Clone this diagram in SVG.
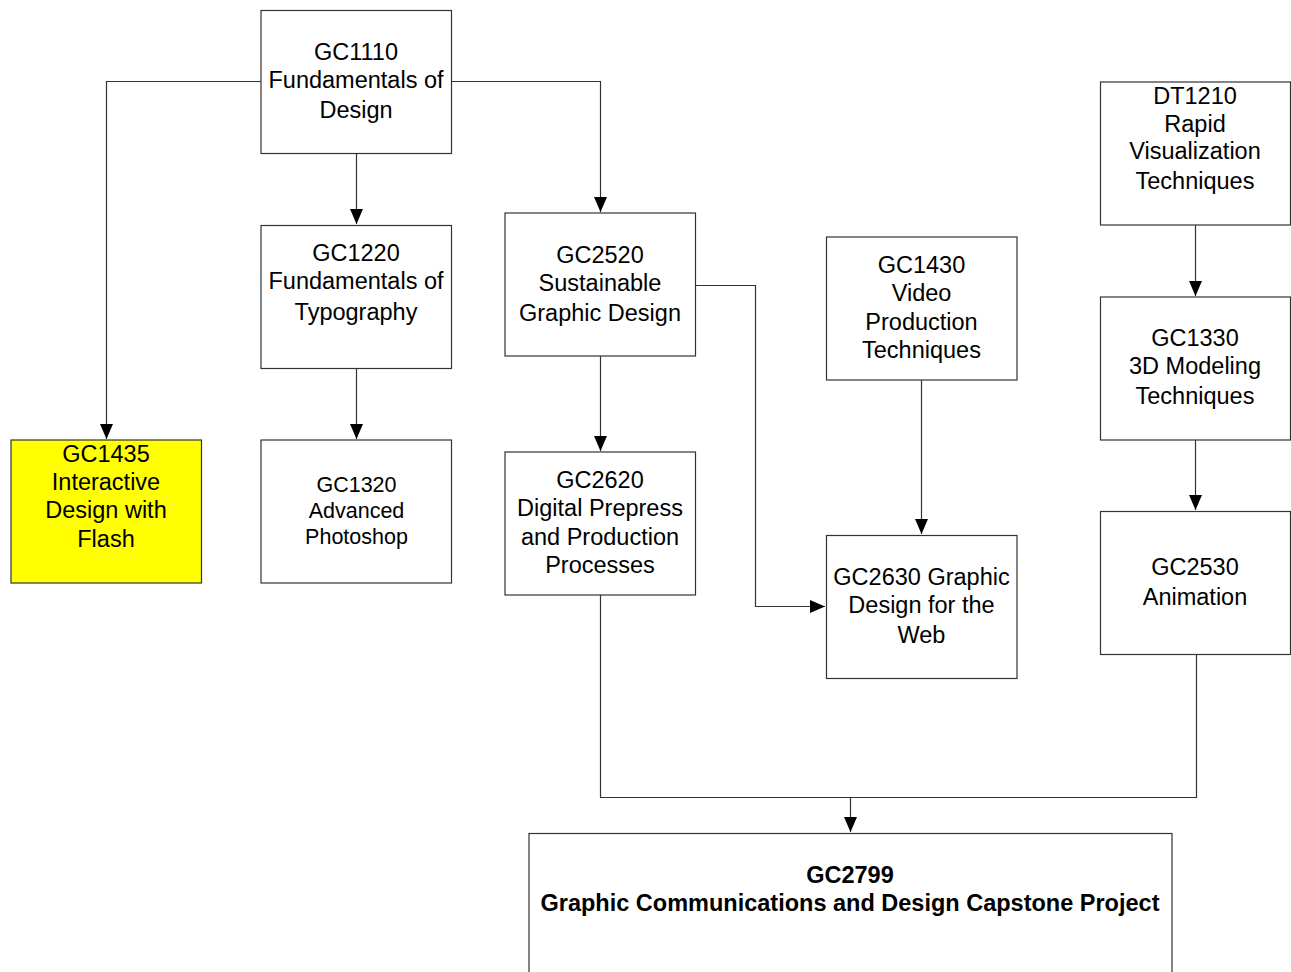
<svg xmlns="http://www.w3.org/2000/svg" width="1291" height="972" viewBox="0 0 1291 972">
<style>
.box{fill:#fff;stroke:#333;stroke-width:1.2}
.hl{fill:#ffff00}
.t{font-family:"Liberation Sans",Arial,sans-serif;font-size:23.5px;fill:#000;text-anchor:middle}
.s{font-size:21.5px}
.b{font-weight:bold}
.c{fill:none;stroke:#333;stroke-width:1.2}
</style>
<defs>
<marker id="ah" markerUnits="userSpaceOnUse" markerWidth="16" markerHeight="14" refX="15" refY="6.5" orient="auto">
<path d="M0,0 L15,6.5 L0,13 Z" fill="#000"/>
</marker>
</defs>
<rect width="1291" height="972" fill="#fff"/>
<g id="connectors">
<path class="c" d="M261,81.5 H106.5 V439" marker-end="url(#ah)"/>
<path class="c" d="M451,81.5 H600.5 V212" marker-end="url(#ah)"/>
<path class="c" d="M356.5,153 V224" marker-end="url(#ah)"/>
<path class="c" d="M356.5,368 V439" marker-end="url(#ah)"/>
<path class="c" d="M600.5,356 V451" marker-end="url(#ah)"/>
<path class="c" d="M695,285.5 H755.5 V606.5 H825" marker-end="url(#ah)"/>
<path class="c" d="M921.5,380 V534" marker-end="url(#ah)"/>
<path class="c" d="M1195.5,225 V296" marker-end="url(#ah)"/>
<path class="c" d="M1195.5,440 V510" marker-end="url(#ah)"/>
<path class="c" d="M600.5,595 V797.5 H1196.5 V655"/>
<path class="c" d="M850.5,797.5 V832" marker-end="url(#ah)"/>
</g>
<g id="GC1110">
<rect class="box" x="261" y="10.5" width="190.5" height="143"/>
<text class="t" x="356" y="60">GC1110</text>
<text class="t" x="356" y="88">Fundamentals of</text>
<text class="t" x="356" y="118">Design</text>
</g>
<g id="GC1220">
<rect class="box" x="261" y="225.5" width="190.5" height="143"/>
<text class="t" x="356" y="261">GC1220</text>
<text class="t" x="356" y="289">Fundamentals of</text>
<text class="t" x="356" y="320">Typography</text>
</g>
<g id="GC1320">
<rect class="box" x="261" y="440" width="190.5" height="143"/>
<text class="t s" x="356.5" y="492">GC1320</text>
<text class="t s" x="356.5" y="518">Advanced</text>
<text class="t s" x="356.5" y="544">Photoshop</text>
</g>
<g id="GC1435">
<rect class="box hl" x="11" y="440" width="190.5" height="143"/>
<text class="t" x="106" y="462">GC1435</text>
<text class="t" x="106" y="490">Interactive</text>
<text class="t" x="106" y="518">Design with</text>
<text class="t" x="106" y="547">Flash</text>
</g>
<g id="GC2520">
<rect class="box" x="505" y="213" width="190.5" height="143"/>
<text class="t" x="600" y="263">GC2520</text>
<text class="t" x="600" y="291">Sustainable</text>
<text class="t" x="600" y="321">Graphic Design</text>
</g>
<g id="GC2620">
<rect class="box" x="505" y="452" width="190.5" height="143"/>
<text class="t" x="600" y="488">GC2620</text>
<text class="t" x="600" y="516">Digital Prepress</text>
<text class="t" x="600" y="545">and Production</text>
<text class="t" x="600" y="573">Processes</text>
</g>
<g id="GC1430">
<rect class="box" x="826.5" y="237" width="190.5" height="143"/>
<text class="t" x="921.5" y="273">GC1430</text>
<text class="t" x="921.5" y="301">Video</text>
<text class="t" x="921.5" y="330">Production</text>
<text class="t" x="921.5" y="358">Techniques</text>
</g>
<g id="GC2630">
<rect class="box" x="826.5" y="535.5" width="190.5" height="143"/>
<text class="t" x="921.5" y="585">GC2630 Graphic</text>
<text class="t" x="921.5" y="613">Design for the</text>
<text class="t" x="921.5" y="643">Web</text>
</g>
<g id="DT1210">
<rect class="box" x="1100.5" y="82" width="190" height="143"/>
<text class="t" x="1195" y="104">DT1210</text>
<text class="t" x="1195" y="132">Rapid</text>
<text class="t" x="1195" y="159">Visualization</text>
<text class="t" x="1195" y="189">Techniques</text>
</g>
<g id="GC1330">
<rect class="box" x="1100.5" y="297" width="190" height="143"/>
<text class="t" x="1195" y="346">GC1330</text>
<text class="t" x="1195" y="374">3D Modeling</text>
<text class="t" x="1195" y="404">Techniques</text>
</g>
<g id="GC2530">
<rect class="box" x="1100.5" y="511.5" width="190" height="143"/>
<text class="t" x="1195" y="575">GC2530</text>
<text class="t" x="1195" y="605">Animation</text>
</g>
<g id="GC2799">
<rect class="box" x="529" y="833.5" width="643" height="160"/>
<text class="t b" x="850" y="883">GC2799</text>
<text class="t b" x="850" y="911">Graphic Communications and Design Capstone Project</text>
</g>
</svg>
